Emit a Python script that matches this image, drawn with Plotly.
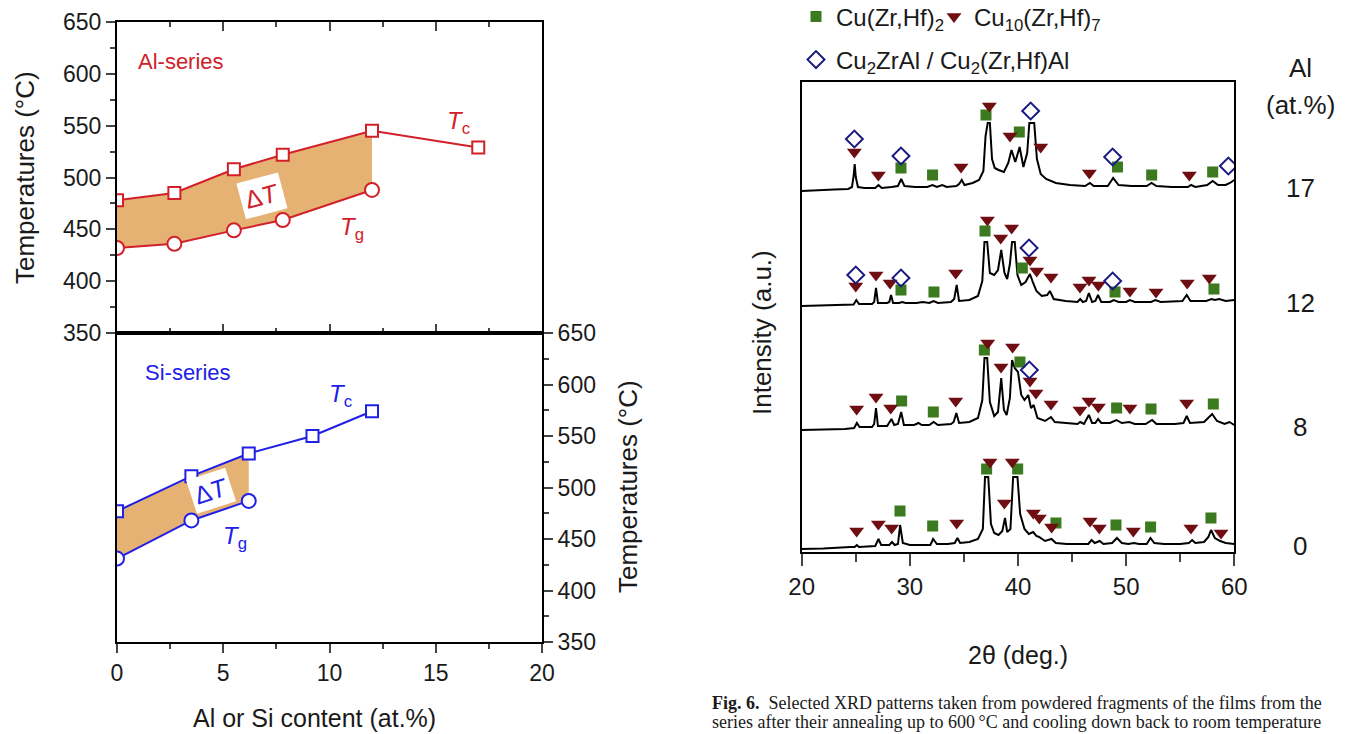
import plotly.graph_objects as go

W, H = 1349, 734


def px(x):
    return x / W


def py(y):
    return 1 - y / H


# ---------------- Left panel: Tg / Tc versus Al or Si content ----------------
al_tc_x = [0, 2.7, 5.5, 7.8, 12, 17]
al_tc = [478, 485, 508, 522, 545, 529]
al_tg_x = [0, 2.7, 5.5, 7.8, 12]
al_tg = [432, 436, 449, 459, 488]

si_tc_x = [0, 3.5, 6.2, 9.2, 12]
si_tc = [477, 511, 533, 550, 574]
si_tg_x = [0, 3.5, 6.2]
si_tg = [431, 468, 487]

temp_ticks = [350, 400, 450, 500, 550, 600, 650]
content_ticks = [0, 5, 10, 15, 20]

# ---------------- Right panel: XRD patterns (height above each baseline) ----------------
al_levels = ["0", "8", "12", "17"]
pattern_offsets = [3, 122, 246, 361]

al0_2theta = [20.0, 22.0, 24.5, 24.9, 25.1, 25.3, 26.8, 27.1, 27.35, 28.1, 28.35, 28.6, 28.9, 29.1,
              29.35, 30.0, 31.0, 31.9, 32.15, 32.5, 33.5, 34.15, 34.4, 34.65, 35.5, 36.3, 36.75,
              36.95, 37.25, 37.5, 37.8, 38.2, 38.55, 38.8, 39.0, 39.3, 39.55, 39.95, 40.2, 40.6,
              41.0, 41.4, 41.7, 41.95, 42.5, 43.1, 43.5, 44.5, 45.5, 46.5, 46.8, 47.1, 47.55, 47.9,
              48.7, 49.15, 49.6, 50.2, 50.7, 51.2, 51.9, 52.25, 52.6, 53.5, 55.0, 55.8, 56.1, 56.4,
              57.2, 57.6, 57.85, 58.2, 58.7, 59.2, 60.0]
al0_counts = [0, 0.5, 2, 2, 4, 2, 3, 10, 4, 4, 7, 4, 5, 24,
              6, 4, 4, 4, 10, 5, 5, 6, 11, 6, 7, 10, 20,
              72, 72, 25, 16, 14, 18, 31, 17, 20, 72, 72, 35, 20,
              15, 17, 13, 12, 8, 10, 6, 5, 5, 5, 9, 6, 8, 5,
              6, 11, 6, 5, 6, 5, 5, 11, 6, 5, 5, 6, 9, 6,
              7, 12, 19, 11, 8, 6, 5]

al8_2theta = [20.0, 22.0, 24.0, 24.85, 25.1, 25.35, 26.5, 26.7, 26.87, 27.05, 27.9, 28.3, 28.55,
              28.9, 29.2, 29.45, 30.4, 30.8, 31.1, 31.8, 32.2, 32.6, 33.8, 34.05, 34.3, 34.55,
              35.5, 36.3, 36.7, 36.9, 37.15, 37.4, 37.8, 38.15, 38.45, 38.7, 38.95, 39.25, 39.45,
              39.7, 40.0, 40.3, 40.6, 40.95, 41.2, 41.45, 41.8, 42.5, 43.05, 43.4, 44.5, 45.5,
              45.75, 46.1, 46.55, 46.85, 47.15, 47.4, 47.7, 48.5, 49.1, 49.6, 50.3, 50.8, 51.8,
              52.4, 52.8, 54.5, 55.3, 55.6, 55.9, 57.2, 57.95, 58.4, 59.1, 59.55, 60.0]
al8_counts = [0, 0.5, 1, 2, 7, 3, 3, 6, 22, 4, 4, 11, 5,
              6, 18, 5, 5, 7, 5, 5, 8, 5, 6, 8, 17, 7,
              8, 12, 30, 72, 72, 28, 14, 18, 52, 20, 15, 32, 70,
              62, 58, 35, 30, 35, 22, 25, 12, 9, 13, 8, 7, 6,
              8, 6, 15, 7, 7, 11, 7, 7, 10, 7, 8, 6, 6,
              10, 6, 6, 7, 14, 7, 8, 16, 9, 6, 8, 5]

al12_2theta = [20.0, 22.0, 24.0, 24.8, 25.05, 25.3, 26.5, 26.7, 26.87, 27.05, 27.9, 28.1, 28.26,
               28.45, 29.0, 29.3, 29.6, 30.6, 31.2, 31.8, 32.2, 32.6, 33.8, 34.1, 34.33, 34.55,
               35.5, 36.3, 36.7, 36.9, 37.15, 37.4, 37.8, 38.15, 38.45, 38.75, 39.0, 39.25, 39.45,
               39.7, 39.95, 40.3, 40.7, 41.1, 41.4, 41.7, 42.2, 42.7, 42.95, 43.3, 44.4, 45.5,
               45.75, 46.0, 46.3, 46.55, 46.85, 47.15, 47.4, 47.7, 48.5, 48.85, 49.3, 50.0, 50.35,
               50.8, 52.3, 52.7, 53.2, 55.2, 55.6, 55.95, 57.4, 57.9, 58.2, 58.6, 59.2, 60.0]
al12_counts = [0, 0.5, 1, 1.5, 6, 2, 2, 4, 18, 3, 3, 4, 11,
               3, 3, 4, 3, 3, 4, 3, 5, 3, 4, 7, 21, 5,
               6, 10, 25, 64, 64, 33, 31, 36, 56, 33, 27, 42, 64,
               64, 31, 21, 24, 32, 23, 15, 10, 11, 15, 7, 5, 4,
               7, 4, 5, 13, 4, 5, 11, 4, 4, 6, 4, 4, 6,
               4, 4, 6, 4, 5, 11, 5, 5, 7, 6, 7, 5, 6]

al17_2theta = [20.0, 21.5, 23.0, 24.3, 24.65, 24.8, 24.9, 25.0, 25.2, 25.8, 26.8, 27.1, 27.4,
               28.3, 28.9, 29.2, 29.5, 30.5, 31.6, 32.1, 32.5, 33.0, 33.4, 34.3, 34.55, 34.8,
               35.05, 35.8, 36.4, 36.8, 37.0, 37.2, 37.4, 37.6, 37.85, 38.2, 38.7, 39.1, 39.4,
               39.75, 40.15, 40.5, 40.85, 41.05, 41.5, 41.75, 42.1, 42.6, 43.5, 44.8, 46.2, 46.65,
               47.0, 48.3, 48.8, 49.3, 50.5, 51.9, 52.35, 52.8, 54.2, 55.7, 56.0, 56.4, 57.5,
               58.0, 58.5, 59.2, 59.6, 60.0]
al17_counts = [0, 1, 1.5, 2, 4, 15, 27, 14, 4, 3, 3, 6, 3,
               4, 5, 12, 5, 4, 4, 6, 4, 6, 4, 5, 7, 11,
               6, 8, 11, 20, 55, 68, 68, 32, 23, 21, 19, 28, 41,
               29, 44, 24, 38, 68, 68, 32, 17, 12, 8, 6, 5, 8,
               5, 5, 13, 6, 5, 5, 8, 5, 4, 4, 6, 4, 6,
               10, 6, 6, 8, 11]

# Phase markers: (2theta, height above the pattern baseline)
cuzrhf2_marks = {
    "0": [(29.09, 38), (32.11, 23), (37.1, 80), (39.97, 80), (43.51, 26), (49.06, 24), (52.26, 22), (57.84, 31)],
    "8": [(29.24, 29), (32.17, 18), (36.89, 80), (40.18, 68), (49.12, 22), (52.3, 21), (58.06, 26)],
    "12": [(29.18, 16), (32.23, 14), (36.95, 75), (40.4, 38), (48.97, 14), (58.12, 17)],
    "17": [(29.18, 23), (32.1, 16), (37.04, 76), (40.12, 59), (49.2, 24), (52.36, 16), (58.0, 19)],
}
cu10_marks = {
    "0": [(25.08, 18), (27.09, 25), (28.32, 21), (34.33, 26), (37.41, 87), (38.74, 46), (39.47, 87),
          (41.42, 36), (41.97, 31), (43.11, 22), (46.66, 28), (47.52, 21), (50.66, 18), (55.99, 21),
          (58.77, 16)],
    "8": [(25.08, 21), (26.87, 33), (28.23, 22), (34.24, 29), (37.2, 87), (38.43, 63), (39.5, 83),
          (41.11, 49), (41.66, 37), (43.05, 26), (45.73, 20), (46.56, 29), (47.43, 23), (50.35, 22),
          (55.59, 27)],
    "12": [(25.0, 20), (26.87, 31), (28.17, 23), (34.24, 33), (37.17, 86), (38.4, 68), (39.41, 78),
           (41.11, 46), (41.73, 35), (43.05, 29), (45.73, 19), (46.56, 26), (47.43, 21), (50.35, 15),
           (52.76, 14), (55.65, 23), (57.69, 28)],
    "17": [(24.87, 39), (27.09, 16), (34.73, 24), (37.35, 85), (39.26, 55), (42.1, 44), (46.6, 18),
           (55.84, 16)],
}
cu2zral_marks = {
    "0": [],
    "8": [(41.05, 60)],
    "12": [(25.0, 31), (29.18, 28), (41.02, 58), (48.75, 25)],
    "17": [(24.87, 52), (29.18, 35), (41.17, 80), (48.75, 34), (59.45, 25)],
}

patterns = {
    "0": (al0_2theta, al0_counts),
    "8": (al8_2theta, al8_counts),
    "12": (al12_2theta, al12_counts),
    "17": (al17_2theta, al17_counts),
}

RED = "#d2202a"
BLUE = "#2020e6"
FILL = "#e6b273"
GREEN = "#3b7a1e"
MAROON = "#6e0e12"
NAVY = "#1a1a82"
INK = "#1a1a1a"
FONT = "Liberation Sans, Arial, sans-serif"

fig = go.Figure()

# ---- Al series (top) ----
n_al = len(al_tg_x)
fig.add_trace(go.Scatter(
    x=al_tc_x[:n_al] + al_tg_x[::-1], y=al_tc[:n_al] + al_tg[::-1],
    fill="toself", fillcolor=FILL, line=dict(width=0), mode="lines",
    hoverinfo="skip", showlegend=False, xaxis="x", yaxis="y"))
fig.add_trace(go.Scatter(
    x=al_tc_x, y=al_tc, mode="lines+markers", showlegend=False, xaxis="x", yaxis="y",
    line=dict(color=RED, width=2),
    marker=dict(symbol="square", color="white", size=12, line=dict(color=RED, width=2))))
fig.add_trace(go.Scatter(
    x=al_tg_x, y=al_tg, mode="lines+markers", showlegend=False, xaxis="x", yaxis="y",
    line=dict(color=RED, width=2),
    marker=dict(symbol="circle", color="white", size=14, line=dict(color=RED, width=2))))

# ---- Si series (bottom) ----
n_si = len(si_tg_x)
fig.add_trace(go.Scatter(
    x=si_tc_x[:n_si] + si_tg_x[::-1], y=si_tc[:n_si] + si_tg[::-1],
    fill="toself", fillcolor=FILL, line=dict(width=0), mode="lines",
    hoverinfo="skip", showlegend=False, xaxis="x2", yaxis="y2"))
fig.add_trace(go.Scatter(
    x=si_tc_x, y=si_tc, mode="lines+markers", showlegend=False, xaxis="x2", yaxis="y2",
    line=dict(color=BLUE, width=2),
    marker=dict(symbol="square", color="white", size=12, line=dict(color=BLUE, width=2))))
fig.add_trace(go.Scatter(
    x=si_tg_x, y=si_tg, mode="lines+markers", showlegend=False, xaxis="x2", yaxis="y2",
    line=dict(color=BLUE, width=2),
    marker=dict(symbol="circle", color="white", size=14, line=dict(color=BLUE, width=2))))

# ---- XRD patterns ----
for level, off in zip(al_levels, pattern_offsets):
    tt, counts = patterns[level]
    fig.add_trace(go.Scatter(
        x=tt, y=[c + off for c in counts], mode="lines", showlegend=False,
        line=dict(color="black", width=2), xaxis="x3", yaxis="y3", hoverinfo="skip"))


def phase_points(marks):
    xs, ys = [], []
    for level, off in zip(al_levels, pattern_offsets):
        for tt, h in marks[level]:
            xs.append(tt)
            ys.append(h + off)
    return xs, ys


gx, gy = phase_points(cuzrhf2_marks)
fig.add_trace(go.Scatter(
    x=gx, y=gy, mode="markers", name="Cu(Zr,Hf)<sub>2</sub>", legend="legend",
    marker=dict(symbol="square", size=11, color=GREEN), xaxis="x3", yaxis="y3"))
mx, my = phase_points(cu10_marks)
fig.add_trace(go.Scatter(
    x=mx, y=my, mode="markers", name="Cu<sub>10</sub>(Zr,Hf)<sub>7</sub>", legend="legend2",
    marker=dict(symbol="triangle-down", size=13, color=MAROON), xaxis="x3", yaxis="y3"))
dx, dy = phase_points(cu2zral_marks)
fig.add_trace(go.Scatter(
    x=dx, y=dy, mode="markers", name="Cu<sub>2</sub>ZrAl / Cu<sub>2</sub>(Zr,Hf)Al", legend="legend3",
    marker=dict(symbol="diamond-open", size=13, color=NAVY, line=dict(width=2, color=NAVY)),
    xaxis="x3", yaxis="y3"))

# ---------------- axes ----------------
frame = dict(showline=True, linewidth=2, linecolor="black", showgrid=False, zeroline=False)
tickfont = dict(family=FONT, size=23, color=INK)
left_x_dom = [px(117), px(542)]

fig.update_layout(
    xaxis=dict(domain=left_x_dom, anchor="y", range=[0, 20], tickvals=content_ticks,
               ticks="inside", ticklen=9, tickwidth=2, mirror="ticks", showticklabels=False,
               minor=dict(ticks="inside", ticklen=5, tickwidth=2, dtick=2.5, showgrid=False), **frame),
    yaxis=dict(domain=[py(333), py(22)], anchor="x", range=[350, 650], tickvals=temp_ticks,
               ticks="outside", ticklen=9, tickwidth=2, mirror=True, tickfont=tickfont,
               minor=dict(ticks="outside", ticklen=5, tickwidth=2, dtick=25, showgrid=False), **frame),
    yaxis5=dict(overlaying="y", side="right", anchor="x", range=[350, 650], tickvals=temp_ticks,
                ticks="inside", ticklen=9, tickwidth=2, showticklabels=False, showgrid=False,
                zeroline=False, showline=False,
                minor=dict(ticks="inside", ticklen=5, tickwidth=2, dtick=25, showgrid=False)),
    xaxis2=dict(domain=left_x_dom, anchor="y2", range=[0, 20], tickvals=content_ticks,
                ticks="outside", ticklen=9, tickwidth=2, mirror=True, tickfont=tickfont,
                minor=dict(ticks="outside", ticklen=5, tickwidth=2, dtick=2.5, showgrid=False), **frame),
    xaxis5=dict(overlaying="x2", side="top", anchor="y2", range=[0, 20], tickvals=content_ticks,
                ticks="inside", ticklen=9, tickwidth=2, showticklabels=False, showgrid=False,
                zeroline=False, showline=False,
                minor=dict(ticks="inside", ticklen=5, tickwidth=2, dtick=2.5, showgrid=False)),
    yaxis2=dict(domain=[py(642), py(333)], anchor="x2", side="right", range=[350, 650],
                tickvals=temp_ticks, ticks="outside", ticklen=9, tickwidth=2, mirror=True,
                tickfont=tickfont,
                minor=dict(ticks="outside", ticklen=5, tickwidth=2, dtick=25, showgrid=False), **frame),
    yaxis6=dict(overlaying="y2", side="left", anchor="x2", range=[350, 650], tickvals=temp_ticks,
                ticks="inside", ticklen=9, tickwidth=2, showticklabels=False, showgrid=False,
                zeroline=False, showline=False,
                minor=dict(ticks="inside", ticklen=5, tickwidth=2, dtick=25, showgrid=False)),
    xaxis3=dict(domain=[px(801.7), px(1234.3)], anchor="y3", range=[20, 60], dtick=10, tick0=20,
                ticks="outside", ticklen=12, tickwidth=2, mirror=True,
                tickfont=dict(family=FONT, size=24, color=INK),
                minor=dict(ticks="outside", ticklen=8, tickwidth=2, dtick=5, showgrid=False), **frame),
    yaxis3=dict(domain=[py(552), py(82)], anchor="x3", range=[0, 470], showticklabels=False,
                ticks="", mirror=True, **frame),
)

legend_common = dict(orientation="h", xanchor="left", yanchor="middle", bgcolor="rgba(0,0,0,0)",
                     font=dict(family=FONT, size=24, color=INK), itemwidth=30)
fig.update_layout(
    legend=dict(x=px(796), y=py(17), **legend_common),
    legend2=dict(x=px(934), y=py(17), **legend_common),
    legend3=dict(x=px(796), y=py(60), **legend_common),
)

# ---------------- text ----------------
ann = []


def label(text, x, y, size=25, color=INK, angle=0, xanchor="center", family=FONT, **kw):
    ann.append(dict(text=text, x=px(x), y=py(y), xref="paper", yref="paper", showarrow=False,
                    xanchor=xanchor, yanchor="middle", textangle=angle,
                    font=dict(family=family, size=size, color=color), **kw))


label("Temperatures (°C)", 25, 178, size=26, angle=-90)
label("Temperatures (°C)", 628, 487, size=26, angle=-90)
label("Al or Si content (at.%)", 314, 718, size=25)
label("2θ (deg.)", 1018, 655, size=25)
label("Intensity (a.u.)", 762, 333, size=26, angle=-90)
label("Al", 1300, 68, size=26)
label("(at.%)", 1300, 105, size=26)

for level, off in zip(al_levels, pattern_offsets):
    ann.append(dict(text=level, x=px(1300), y=off + 3, xref="paper", yref="y3", showarrow=False,
                    xanchor="center", yanchor="middle", font=dict(family=FONT, size=26, color=INK)))

# series annotations
ann += [
    dict(text="Al-series", x=0.9, y=612, xref="x", yref="y", xanchor="left", showarrow=False,
         font=dict(family=FONT, size=22, color=RED)),
    dict(text="<i>T</i><sub>c</sub>", x=16.05, y=553, xref="x", yref="y", showarrow=False,
         font=dict(family=FONT, size=24, color=RED)),
    dict(text="<i>T</i><sub>g</sub>", x=11.06, y=451, xref="x", yref="y", showarrow=False,
         font=dict(family=FONT, size=24, color=RED)),
    dict(text="Δ<i>T</i>", x=6.8, y=482, xref="x", yref="y", showarrow=False, textangle=-15,
         bgcolor="white", borderpad=4, font=dict(family=FONT, size=25, color=RED)),
    dict(text="Si-series", x=1.2, y=612, xref="x2", yref="y2", xanchor="left", showarrow=False,
         font=dict(family=FONT, size=22, color=BLUE)),
    dict(text="<i>T</i><sub>c</sub>", x=10.5, y=589, xref="x2", yref="y2", showarrow=False,
         font=dict(family=FONT, size=24, color=BLUE)),
    dict(text="<i>T</i><sub>g</sub>", x=5.55, y=451, xref="x2", yref="y2", showarrow=False,
         font=dict(family=FONT, size=24, color=BLUE)),
    dict(text="Δ<i>T</i>", x=4.4, y=497, xref="x2", yref="y2", showarrow=False, textangle=-18,
         bgcolor="white", borderpad=3, font=dict(family=FONT, size=25, color=BLUE)),
]

SERIF = "Liberation Serif, Times New Roman, serif"
label("<b>Fig. 6.</b>\u00a0\u00a0Selected XRD patterns taken from powdered fragments of the films from the",
      710, 703, size=18, family=SERIF, xanchor="left")
label("series after their annealing up to 600\u2009°C and cooling down back to room temperature",
      710, 722, size=18, family=SERIF, xanchor="left")

fig.update_layout(
    annotations=ann,
    width=W, height=H,
    margin=dict(l=0, r=0, t=0, b=0, autoexpand=False),
    paper_bgcolor="white", plot_bgcolor="rgba(0,0,0,0)",
    font=dict(family=FONT, color=INK),
)

fig.write_html("out.html")
